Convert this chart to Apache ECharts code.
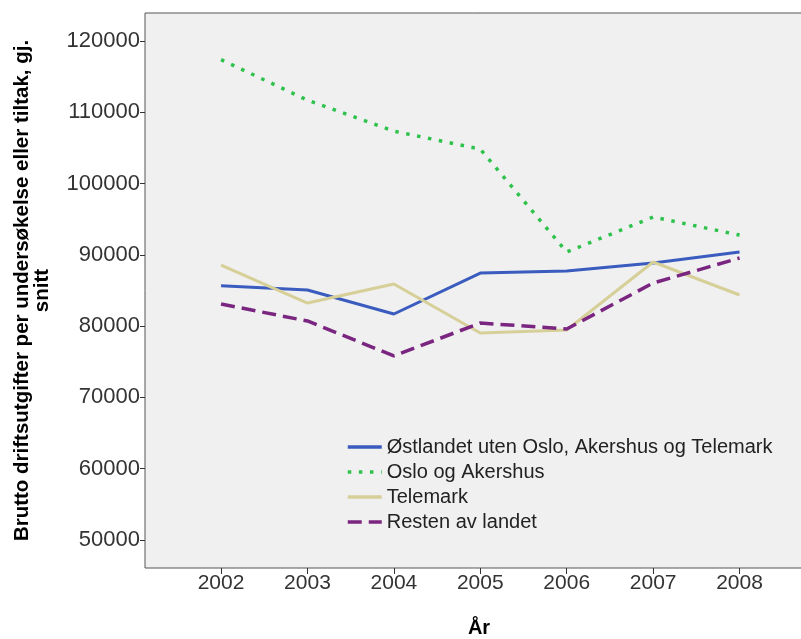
<!DOCTYPE html>
<html>
<head>
<meta charset="utf-8">
<script src="https://cdn.jsdelivr.net/npm/echarts@6/dist/echarts.min.js"></script>
<style>html,body{margin:0;padding:0;background:#fff}#c{width:801px;height:639px}</style>
</head>
<body>
<div id="c"></div>
<script>
const years = [2002, 2003, 2004, 2005, 2006, 2007, 2008];
const yTicks = [50000, 60000, 70000, 80000, 90000, 100000, 110000, 120000];
const seriesNames = ["Østlandet uten Oslo, Akershus og Telemark", "Oslo og Akershus", "Telemark", "Resten av landet"];
const ostlandet = [85670, 85070, 81700, 87450, 87730, 88860, 90400];
const osloAkershus = [117400, 111720, 107370, 104850, 90400, 95310, 92780];
const telemark = [88570, 83240, 85910, 79040, 79460, 89000, 84370];
const resten = [83100, 80720, 75810, 80440, 79600, 86050, 89560];

const pair = (vals) => years.map((y, i) => [y, vals[i]]);
const font = "'Liberation Sans', Arial, sans-serif";

const chart = echarts.init(document.getElementById('c'), null, {renderer: 'canvas'});
chart.setOption({
  animation: false,
  backgroundColor: '#ffffff',
  grid: {
    left: 145, top: 13, right: -12, bottom: 71,
    show: true, backgroundColor: '#f0f0f0', borderColor: '#555', borderWidth: 1,
    containLabel: false, outerBoundsMode: 'none'
  },
  xAxis: {
    type: 'value', min: 2001.12, max: 2008.85,
    name: 'År', nameLocation: 'middle', nameGap: 50,
    nameTextStyle: {fontFamily: font, fontSize: 20, fontWeight: 'bold', color: '#000'},
    axisLine: {show: false},
    splitLine: {show: false},
    axisTick: {show: true, customValues: years, length: 6, lineStyle: {color: '#333'}},
    axisLabel: {customValues: years, fontFamily: font, fontSize: 21, color: '#333', margin: 5,
      formatter: (v) => String(v)}
  },
  yAxis: {
    type: 'value', min: 46050, max: 123950,
    name: 'Brutto driftsutgifter per undersøkelse eller tiltak, gj.\nsnitt',
    nameLocation: 'middle', nameGap: 93, nameRotate: 90,
    nameTextStyle: {fontFamily: font, fontSize: 20.5, fontWeight: 'bold', color: '#000', lineHeight: 20, align: 'center'},
    axisLine: {show: false},
    splitLine: {show: false},
    axisTick: {show: true, customValues: yTicks, length: 5, lineStyle: {color: '#333'}},
    axisLabel: {customValues: yTicks, fontFamily: font, fontSize: 22, color: '#333', margin: 5,
      formatter: (v) => String(v)}
  },
  legend: {
    orient: 'vertical', left: 341, top: 432, itemGap: 5,
    itemWidth: 34, itemHeight: 20,
    itemStyle: {opacity: 0},
    lineStyle: {width: 3.5},
    textStyle: {fontFamily: font, fontSize: 20, color: '#222'},
    data: seriesNames
  },
  series: [
    {name: seriesNames[0], type: 'line', data: pair(ostlandet), symbol: 'none',
      lineStyle: {color: '#3a5cbf', width: 3}, itemStyle: {color: '#3a5cbf'}},
    {name: seriesNames[1], type: 'line', data: pair(osloAkershus), symbol: 'none',
      lineStyle: {color: '#2ec24c', width: 3.5, type: [3.5, 7.6]}, itemStyle: {color: '#2ec24c'}},
    {name: seriesNames[2], type: 'line', data: pair(telemark), symbol: 'none',
      lineStyle: {color: '#d6cf98', width: 3}, itemStyle: {color: '#d6cf98'}},
    {name: seriesNames[3], type: 'line', data: pair(resten), symbol: 'none',
      lineStyle: {color: '#7a2680', width: 3.5, type: [14, 7]}, itemStyle: {color: '#7a2680'}}
  ]
});
</script>
</body>
</html>
